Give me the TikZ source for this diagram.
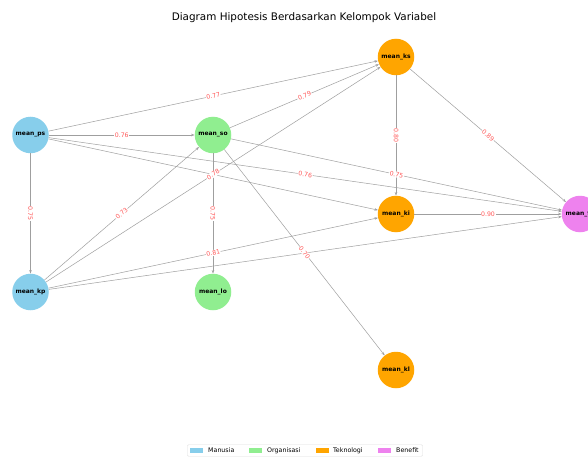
\documentclass[tikz,border=0pt]{standalone}
\usepackage{fontspec}
\setmainfont{DejaVu Sans}
\usetikzlibrary{arrows.meta}
\definecolor{manusia}{HTML}{87CEEB}
\definecolor{organisasi}{HTML}{90EE90}
\definecolor{teknologi}{HTML}{FFA500}
\definecolor{benefit}{HTML}{EE82EE}
\tikzset{
  var/.style={circle,minimum size=36.5pt,inner sep=0pt,
    font=\fontsize{6}{7}\selectfont\bfseries},
  link/.style={draw=gray!75,line width=0.5pt,-{Stealth[length=3.5pt,width=2.5pt]}},
  weight/.style={midway,sloped,fill=white,inner sep=0.6pt,text=red!65,
    font=\fontsize{6.2}{7}\selectfont},
  patch/.style={minimum width=13pt,minimum height=4.5pt,inner sep=0pt},
  legtext/.style={anchor=west,inner sep=0pt,font=\fontsize{6.3}{7}\selectfont}
}
\begin{document}
\begin{tikzpicture}[x=1pt,y=-1pt]
  \useasboundingbox[fill=white] (0,0) rectangle (588,457);
  \clip (0,0) rectangle (588,457);
  \node (title) at (304,17.5) {\fontsize{10.4}{12}\selectfont Diagram Hipotesis Berdasarkan Kelompok Variabel};
  % variables
  \node[var,fill=manusia] (ps) at (30.5,135) {mean\_ps};
  \node[var,fill=manusia] (kp) at (30.5,292) {mean\_kp};
  \node[var,fill=organisasi] (so) at (213,135) {mean\_so};
  \node[var,fill=organisasi] (lo) at (213,292) {mean\_lo};
  \node[var,fill=teknologi] (ks) at (396,57) {mean\_ks};
  \node[var,fill=teknologi] (ki) at (396,214) {mean\_ki};
  \node[var,fill=teknologi] (kl) at (396,370) {mean\_kl};
  \node[var,fill=benefit] (fb) at (580,214) {mean\_f\hphantom{b}};
  % edges
  \foreach \a/\b in {ps/so,ps/ks,ps/kp,ps/ki,ps/fb,so/ks,so/lo,so/kl,so/fb,
                     kp/so,kp/ks,kp/ki,kp/fb,ks/ki,ks/fb,ki/fb}
    \draw[link] (\a) -- (\b);
  % weights
  \foreach \a/\b/\w in {ps/so/0.76,ps/ks/0.77,ps/kp/0.75,ps/fb/0.76,so/ks/0.79,
                        so/lo/0.75,so/fb/0.75,kp/so/0.73,kp/ki/0.81,so/kl/0.70,
                        kp/ks/0.78,ks/ki/0.80,ks/fb/0.89,ki/fb/0.90}
    \path (\a) -- (\b) node[weight] {\w};
  % legend
  \node[draw=gray!25,rounded corners=1pt,minimum width=235pt,minimum height=11.5pt,
    inner sep=0pt] (legend) at (305,450.5) {};
  \node[patch,fill=manusia] (p1) at (196.5,450.5) {};
  \node[legtext] (t1) at (208,450.5) {Manusia};
  \node[patch,fill=organisasi] (p2) at (255,450.5) {};
  \node[legtext] (t2) at (267,450.5) {Organisasi};
  \node[patch,fill=teknologi] (p3) at (322,450.5) {};
  \node[legtext] (t3) at (333,450.5) {Teknologi};
  \node[patch,fill=benefit] (p4) at (384.5,450.5) {};
  \node[legtext] (t4) at (396,450.5) {Benefit};
\end{tikzpicture}
\end{document}
